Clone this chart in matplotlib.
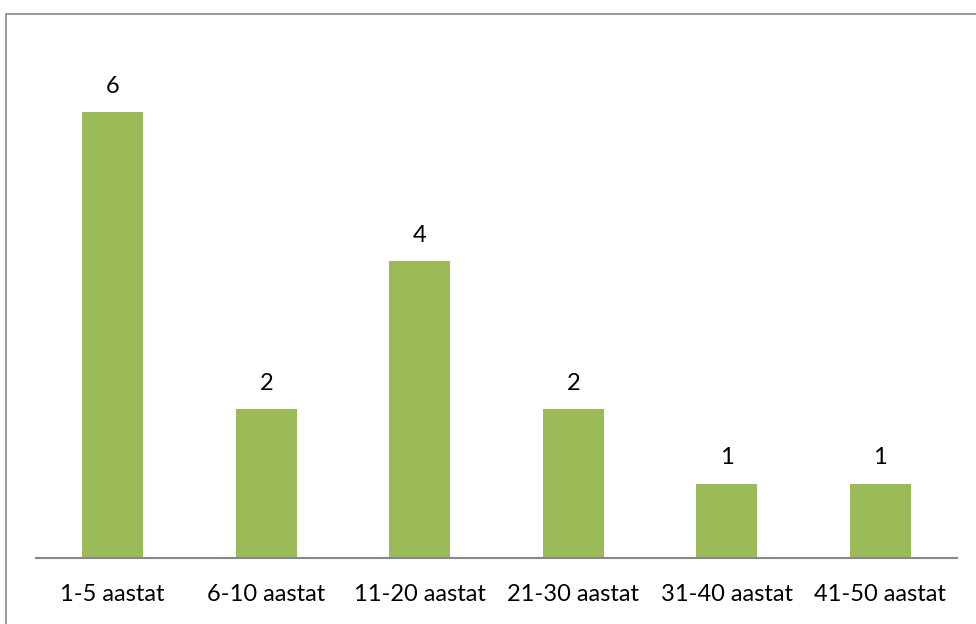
import matplotlib.pyplot as plt
from matplotlib.patches import Rectangle

categories = ["1-5 aastat", "6-10 aastat", "11-20 aastat", "21-30 aastat", "31-40 aastat", "41-50 aastat"]
values = [6, 2, 4, 2, 1, 1]

plt.rcParams['font.family'] = ['Lato', 'DejaVu Sans']

fig = plt.figure(figsize=(9.76, 6.24), dpi=100)
ax = fig.add_axes([36 / 976, 66 / 624, 921 / 976, 520 / 624])

x = range(len(categories))
bars = ax.bar(x, values, width=0.40, color='#9BBB59')

for xi, v in zip(x, values):
    ax.annotate(str(v), (xi, v), xytext=(0, 11), textcoords='offset points',
                ha='center', va='bottom', fontsize=17, color='black')

ax.set_xlim(-0.5, len(categories) - 0.5)
ax.set_ylim(0, 7)
ax.set_xticks(list(x))
ax.set_xticklabels(categories, fontsize=17)
ax.tick_params(axis='x', length=0, pad=19)
ax.set_yticks([])
for s in ['top', 'right', 'left']:
    ax.spines[s].set_visible(False)
ax.spines['bottom'].set_color('#888888')
ax.spines['bottom'].set_linewidth(1.5)

# outer frame of the chart area
fig.patches.append(Rectangle((6 / 976, -0.01), 1.0, 616 / 624, transform=fig.transFigure,
                             fill=False, edgecolor='#888888', linewidth=1.2))

fig.savefig('out.png', dpi=100)
